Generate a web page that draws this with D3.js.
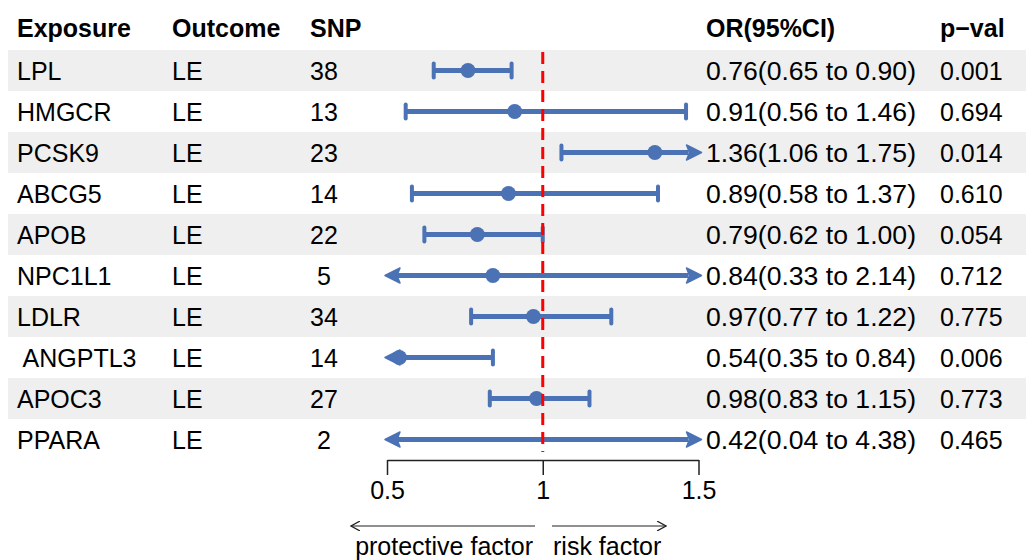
<!DOCTYPE html>
<html><head><meta charset="utf-8">
<script src="https://cdn.jsdelivr.net/npm/d3@7"></script>
<style>body{margin:0;background:#fff}svg{display:block}text{font-family:"Liberation Sans",Arial,sans-serif}</style>
</head><body>
<script>
const exposures = ["LPL","HMGCR","PCSK9","ABCG5","APOB","NPC1L1","LDLR"," ANGPTL3","APOC3","PPARA"];
const outcomes = ["LE","LE","LE","LE","LE","LE","LE","LE","LE","LE"];
const snps = [38,13,23,14,22,5,34,14,27,2];
const orValues = [0.76,0.91,1.36,0.89,0.79,0.84,0.97,0.54,0.98,0.42];
const lowerCI = [0.65,0.56,1.06,0.58,0.62,0.33,0.77,0.35,0.83,0.04];
const upperCI = [0.90,1.46,1.75,1.37,1.00,2.14,1.22,0.84,1.15,4.38];
const orText = ["0.76(0.65 to 0.90)","0.91(0.56 to 1.46)","1.36(1.06 to 1.75)","0.89(0.58 to 1.37)","0.79(0.62 to 1.00)","0.84(0.33 to 2.14)","0.97(0.77 to 1.22)","0.54(0.35 to 0.84)","0.98(0.83 to 1.15)","0.42(0.04 to 4.38)"];
const pvals = ["0.001","0.694","0.014","0.610","0.054","0.712","0.775","0.006","0.773","0.465"];
const xTicks = [0.5,1,1.5];
const headers = ["Exposure","Outcome","SNP","OR(95%CI)","p\u2212val"];

const W=1026,H=560;
const svg=d3.select("body").append("svg").attr("width",W).attr("height",H);
const n=exposures.length;
const y=d3.scaleBand().domain(d3.range(n)).range([50,50+41*n]).paddingInner(0);
const x=d3.scaleLinear().domain([0.5,1.5]).range([387,698.5]);
const blue="#4a72b4";
const fs=25;

// bands
svg.selectAll("rect.band").data(d3.range(n).filter(i=>i%2===0)).enter().append("rect")
  .attr("x",8).attr("width",W-8).attr("y",i=>y(i)).attr("height",y.bandwidth()).attr("fill","#efefef");

// headers
const hx=[17,172,310,706,940];
svg.selectAll("text.h").data(headers).enter().append("text")
  .attr("x",(d,i)=>hx[i]).attr("y",37).attr("font-size",fs).attr("font-weight","bold").text(d=>d);

const cy=i=>y(i)+y.bandwidth()/2;
const rows=svg.selectAll("g.row").data(d3.range(n)).enter().append("g");
rows.append("text").attr("x",17).attr("y",i=>cy(i)+9).attr("font-size",fs).attr("xml:space","preserve").style("white-space","pre").text(i=>exposures[i]);
rows.append("text").attr("x",172).attr("y",i=>cy(i)+9).attr("font-size",fs).text(i=>outcomes[i]);
rows.append("text").attr("x",324).attr("text-anchor","middle").attr("y",i=>cy(i)+9).attr("font-size",fs).text(i=>snps[i]);
rows.append("text").attr("x",706).attr("y",i=>cy(i)+9).attr("font-size",fs).attr("textLength",210).attr("lengthAdjust","spacingAndGlyphs").text(i=>orText[i]);
rows.append("text").attr("x",940).attr("y",i=>cy(i)+9).attr("font-size",fs).text(i=>pvals[i]);

// ref line
svg.append("line").attr("x1",x(1)).attr("x2",x(1)).attr("y1",52).attr("y2",452)
  .attr("stroke","#ff0000").attr("stroke-width",3).attr("stroke-dasharray","12,7");

// CIs
const [d0,d1]=x.domain();
rows.each(function(i){
  const g=d3.select(this), c=cy(i);
  const lo=lowerCI[i], hi=upperCI[i];
  const loOut=lo<d0, hiOut=hi>d1;
  const xl=loOut?x(d0)+10:x(lo), xr=hiOut?x(d1)-10:x(hi);
  g.append("line").attr("x1",xl).attr("x2",xr).attr("y1",c).attr("y2",c).attr("stroke",blue).attr("stroke-width",5);
  if(loOut){
    const t=x(d0)-2;
    g.append("path").attr("d",`M${t},${c} L${t+15},${c-7.5} L${t+12},${c} L${t+15},${c+7.5} Z`).attr("fill",blue).attr("stroke",blue).attr("stroke-width",1.5).attr("stroke-linejoin","round");
  } else {
    g.append("line").attr("x1",x(lo)).attr("x2",x(lo)).attr("y1",c-7).attr("y2",c+7).attr("stroke",blue).attr("stroke-width",4).attr("stroke-linecap","round");
  }
  if(hiOut){
    const t=x(d1)+3;
    g.append("path").attr("d",`M${t},${c} L${t-15},${c-7.5} L${t-12},${c} L${t-15},${c+7.5} Z`).attr("fill",blue).attr("stroke",blue).attr("stroke-width",1.5).attr("stroke-linejoin","round");
  } else {
    g.append("line").attr("x1",x(hi)).attr("x2",x(hi)).attr("y1",c-7).attr("y2",c+7).attr("stroke",blue).attr("stroke-width",4).attr("stroke-linecap","round");
  }
  const v=orValues[i];
  if(v>=d0 && v<=d1){
    g.append("circle").attr("cx",x(v)).attr("cy",c).attr("r",7.5).attr("fill",blue);
  }
});

// axis
const ax=svg.append("g").attr("transform","translate(0,460)")
  .call(d3.axisBottom(x).tickValues(xTicks).tickSize(15).tickSizeOuter(0).tickFormat(d3.format("")));
ax.select(".domain").attr("stroke","#222").attr("stroke-width",1.5);
ax.selectAll(".tick line").attr("stroke","#222").attr("stroke-width",1.5);
ax.selectAll(".tick text").attr("font-size",fs).attr("fill","#000").attr("dy","0.82em").style("font-family","Liberation Sans, Arial, sans-serif");

// direction arrows
svg.append("defs").append("marker").attr("id","ah").attr("viewBox","0 0 10 10").attr("refX",9).attr("refY",5)
  .attr("markerWidth",10).attr("markerHeight",10).attr("markerUnits","userSpaceOnUse").attr("orient","auto-start-reverse")
  .append("path").attr("d","M0,0 L9,5 L0,10").attr("fill","none").attr("stroke","#222").attr("stroke-width",1.2);
svg.append("line").attr("x1",535).attr("x2",351).attr("y1",526).attr("y2",526).attr("stroke","#222").attr("stroke-width",1.2).attr("marker-end","url(#ah)");
svg.append("line").attr("x1",552).attr("x2",666).attr("y1",526).attr("y2",526).attr("stroke","#222").attr("stroke-width",1.2).attr("marker-end","url(#ah)");
svg.append("text").attr("x",533).attr("y",555).attr("text-anchor","end").attr("font-size",fs).text("protective factor");
svg.append("text").attr("x",553).attr("y",555).attr("font-size",fs).text("risk factor");
</script>
</body></html>
